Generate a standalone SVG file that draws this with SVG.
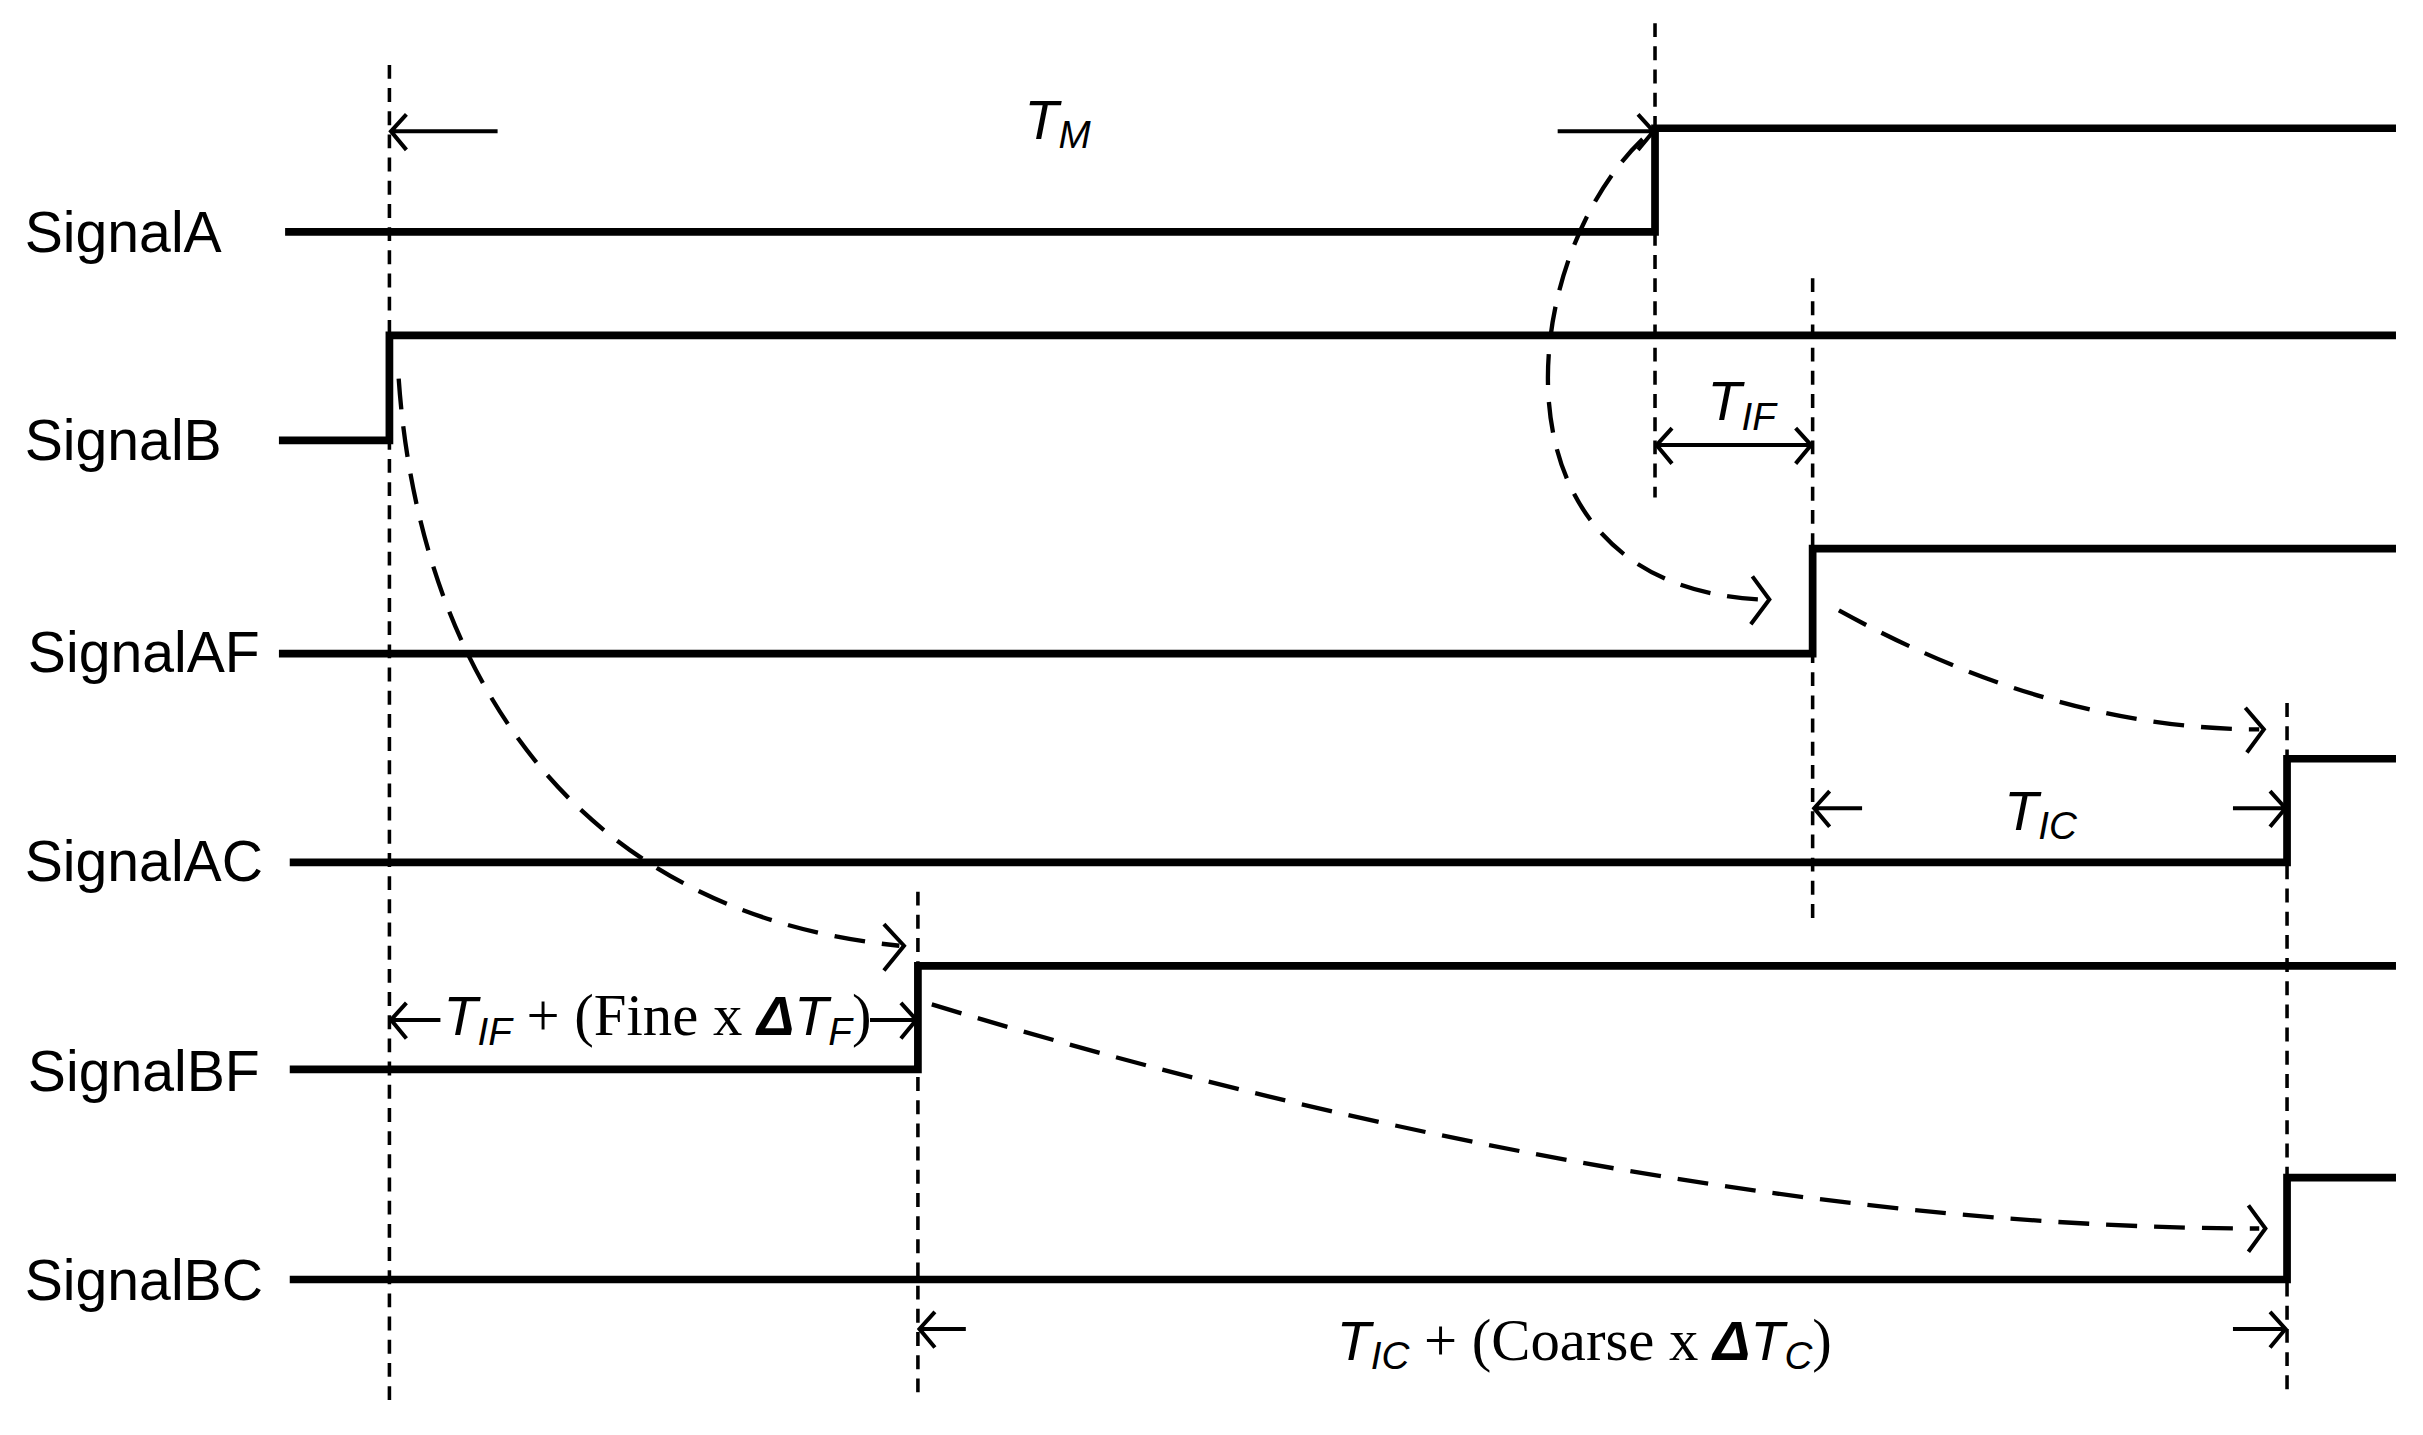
<svg xmlns="http://www.w3.org/2000/svg" width="2423" height="1435" viewBox="0 0 2423 1435">
<style>
.sig{fill:none;stroke:#000;stroke-width:5;stroke-linecap:square}
.vd{fill:none;stroke:#000;stroke-width:2.3;stroke-dasharray:9,6}
.cv{fill:none;stroke:#000;stroke-width:2.8;stroke-dasharray:20,11}
.ar{fill:none;stroke:#000;stroke-width:2.6}
.lbl{font-family:"Liberation Sans",Arial,sans-serif;font-size:37px}
.it{font-family:"Liberation Sans",Arial,sans-serif;font-style:italic;font-size:36px}
.sub{font-family:"Liberation Sans",Arial,sans-serif;font-style:italic;font-size:25px}
.tm{font-family:"Liberation Serif","Times New Roman",serif;font-size:38px}
.dl{font-family:"Liberation Sans",Arial,sans-serif;font-style:italic;font-weight:bold;font-size:36px}
</style>
<rect width="2423" height="1435" fill="#fff"/>
<g transform="scale(1.5453)">
<g id="labels">
<text class="lbl" x="16" y="163">SignalA</text>
<text class="lbl" x="16" y="298">SignalB</text>
<text class="lbl" x="18" y="435">SignalAF</text>
<text class="lbl" x="16" y="570">SignalAC</text>
<text class="lbl" x="18" y="706">SignalBF</text>
<text class="lbl" x="16" y="841">SignalBC</text>
</g>
<g id="signals">
<polyline class="sig" points="187,150 1071,150 1071,83 1548,83"/>
<polyline class="sig" points="183,285 252,285 252,217 1548,217"/>
<polyline class="sig" points="183,423 1173,423 1173,355 1548,355"/>
<polyline class="sig" points="190,558 1480,558 1480,491 1548,491"/>
<polyline class="sig" points="190,692 594,692 594,625 1548,625"/>
<polyline class="sig" points="190,828 1480,828 1480,762 1548,762"/>
</g>
<g id="connectors">
<line class="vd" x1="252" y1="42" x2="252" y2="912"/>
<line class="vd" x1="1071" y1="15" x2="1071" y2="322"/>
<line class="vd" x1="1173" y1="180" x2="1173" y2="595"/>
<line class="vd" x1="1480" y1="455" x2="1480" y2="900"/>
<line class="vd" x1="594" y1="577" x2="594" y2="903"/>
<path class="cv" d="M258,245 C270,420 360,590 582,612"/>
<path class="cv" d="M1063,90 C980,170 960,380 1140,388"/>
<path class="cv" d="M1190,395 C1290,450 1380,472 1462,472"/>
<path class="cv" d="M603,650 C900,740 1200,795 1462,795"/>
<path class="ar" d="M572,598 L585,612 L572,628"/>
<path class="ar" d="M1134,373 L1145,388 L1133,404"/>
<path class="ar" d="M1453,458 L1465,472 L1454,487"/>
<path class="ar" d="M1455,780 L1466,795 L1455,810"/>
<path class="ar" d="M322,85 L253,85 M263,74 L253,85 L263,97"/>
<path class="ar" d="M1008,85 L1070,85 M1060,74 L1070,85 L1060,97"/>
<path class="ar" d="M1072,288 L1172,288 M1082,277 L1072,288 L1082,300 M1162,277 L1172,288 L1162,300"/>
<path class="ar" d="M1205,523 L1174,523 M1184,512 L1174,523 L1184,535"/>
<path class="ar" d="M1445,523 L1479,523 M1469,512 L1479,523 L1469,535"/>
<path class="ar" d="M253,660 L285,660 M263,649 L253,660 L263,672"/>
<path class="ar" d="M563,660 L593,660 M583,649 L593,660 L583,672"/>
<path class="ar" d="M625,860 L595,860 M605,849 L595,860 L605,872"/>
<path class="ar" d="M1445,860 L1479,860 M1469,849 L1479,860 L1469,872"/>
</g>
<g id="texts">
<text x="663" y="90"><tspan class="it">T</tspan><tspan class="sub" dy="6">M</tspan></text>
<text x="1105" y="272"><tspan class="it">T</tspan><tspan class="sub" dy="6">IF</tspan></text>
<text x="1297" y="537"><tspan class="it">T</tspan><tspan class="sub" dy="6">IC</tspan></text>
<text x="287" y="670"><tspan class="it">T</tspan><tspan class="sub" dy="6">IF</tspan><tspan class="tm" dy="-6"> + (Fine x </tspan><tspan class="dl">Δ</tspan><tspan class="it">T</tspan><tspan class="sub" dy="6">F</tspan><tspan class="tm" dy="-6">)</tspan></text>
<text x="865" y="880"><tspan class="it">T</tspan><tspan class="sub" dy="6">IC</tspan><tspan class="tm" dy="-6"> + (Coarse x </tspan><tspan class="dl">Δ</tspan><tspan class="it">T</tspan><tspan class="sub" dy="6">C</tspan><tspan class="tm" dy="-6">)</tspan></text>
</g>
</g>
</svg>
